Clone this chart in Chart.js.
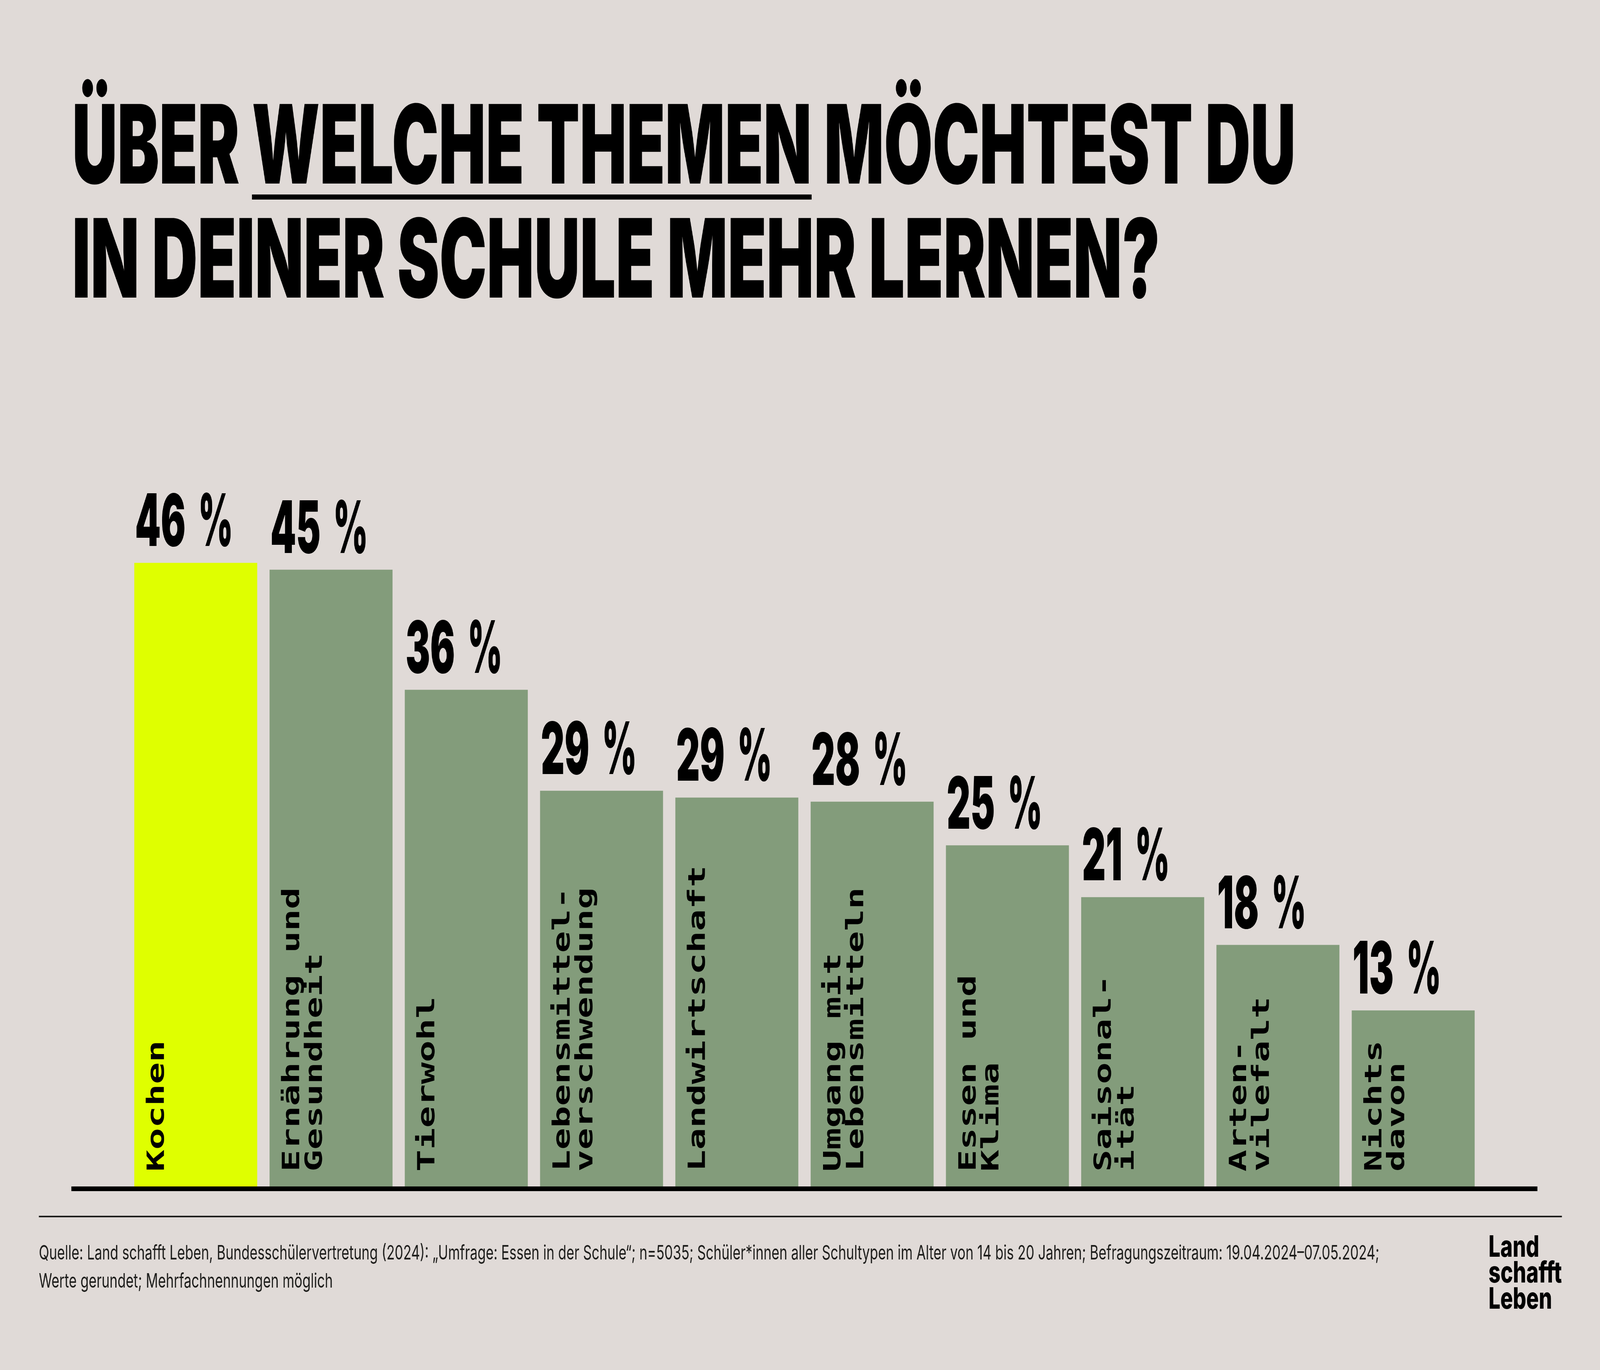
<!DOCTYPE html>
<html lang="de">
<head>
<meta charset="utf-8">
<title>Über welche Themen möchtest du in deiner Schule mehr lernen?</title>
<script src="https://cdn.jsdelivr.net/npm/chart.js@4.4.1/dist/chart.umd.min.js"></script>
<style>
  html, body { margin: 0; padding: 0; background: #e0dad7; overflow: hidden; }
  #buehne { position: absolute; left: 0; top: 0; width: 6258px; height: 3508px; transform-origin: 0 0; }
  canvas { display: block; }
</style>
</head>
<body>
<div id="buehne">
  <canvas id="themen_chart" width="6258" height="3508"></canvas>
</div>
<script>
// Daten
var themen = [
  ["Kochen"],
  ["Ernährung und", "Gesundheit"],
  ["Tierwohl"],
  ["Lebensmittel-", "verschwendung"],
  ["Landwirtschaft"],
  ["Umgang mit", "Lebensmitteln"],
  ["Essen und", "Klima"],
  ["Saisonal-", "ität"],
  ["Arten-", "vilefalt"],
  ["Nichts", "davon"]
];
var anteile = [45.7, 45.2, 36.4, 29.0, 28.5, 28.2, 25.0, 21.2, 17.7, 12.9];
var anteilLabels = ["46", "45", "36", "29", "29", "28", "25", "21", "18", "13"];
var einheit = "%";
var hervorgehoben = 0;

var titelZeile1 = ["ÜBER ", "WELCHE THEMEN", " MÖCHTEST DU"];
var titelZeile2 = "IN DEINER SCHULE MEHR LERNEN?";
var quelle = [
  "Quelle: Land schafft Leben, Bundesschülervertretung (2024): \u201EUmfrage: Essen in der Schule\u201C; n=5035; Schüler*innen aller Schultypen im Alter von 14 bis 20 Jahren; Befragungszeitraum: 19.04.2024\u201307.05.2024;",
  "Werte gerundet; Mehrfachnennungen möglich"
];
var logo = ["Land", "schafft", "Leben"];

var BG = "#e0dad7";
var GRUEN = "#839c7b";
var GELB = "#dfff00";
var SCHWARZ = "#000000";

var farben = anteile.map(function (v, i) { return i == hervorgehoben ? GELB : GRUEN; });

// the window may be smaller than the 6258x3508 design, so the stage is scaled to it
function buehneAnpassen() {
  var sx = window.innerWidth / 6258;
  var sy = window.innerHeight / 3508;
  document.getElementById("buehne").style.transform = "scale(" + sx + "," + sy + ")";
}
buehneAnpassen();
window.addEventListener("resize", buehneAnpassen);

// text squeezed / stretched to a given width
function fitText(ctx, text, x, y, breite) {
  var w = ctx.measureText(text).width;
  var s = breite / w;
  ctx.save();
  ctx.translate(x, y);
  ctx.scale(s, 1);
  ctx.fillText(text, 0, 0);
  ctx.restore();
  return s;
}

function scaledText(ctx, text, x, y, s) {
  ctx.save();
  ctx.translate(x, y);
  ctx.scale(s, 1);
  ctx.fillText(text, 0, 0);
  ctx.restore();
  return ctx.measureText(text).width * s;
}

var rahmenPlugin = {
  id: "rahmen",
  beforeDraw: function (chart) {
    var ctx = chart.ctx;
    ctx.save();
    ctx.fillStyle = BG;
    ctx.fillRect(0, 0, chart.width, chart.height);

    // Titel
    ctx.fillStyle = SCHWARZ;
    ctx.textAlign = "left";
    ctx.textBaseline = "alphabetic";
    ctx.font = "900 280px Inter";
    var zeile = titelZeile1.join("");
    var s = fitText(ctx, zeile, 282, 470, 4786);
    var u0 = 282 + s * ctx.measureText(titelZeile1[0]).width;
    var u1 = 282 + s * ctx.measureText(titelZeile1[0] + titelZeile1[1]).width;
    ctx.fillRect(u0, 498, u1 - u0, 13);
    fitText(ctx, titelZeile2, 282, 762, 4255);

    // Fusszeile
    ctx.fillStyle = "#1d1d1b";
    ctx.fillRect(152, 3113, 6109 - 152, 4);
    ctx.font = "400 51px Inter";
    var sq = fitText(ctx, quelle[0], 152, 3225, 5243);
    scaledText(ctx, quelle[1], 152, 3297, sq);

    // Logo
    ctx.fillStyle = SCHWARZ;
    ctx.font = "800 76px Inter";
    var sl = 287 / ctx.measureText(logo[1]).width;
    [3218, 3284, 3351].forEach(function (y, i) {
      scaledText(ctx, logo[i], 5822, y, sl);
    });
    ctx.restore();
  },
  afterDatasetsDraw: function (chart) {
    var ctx = chart.ctx;
    var meta = chart.getDatasetMeta(0);
    var yNull = chart.scales.y.getPixelForValue(0);
    ctx.save();

    // Grundlinie
    ctx.fillStyle = SCHWARZ;
    ctx.fillRect(279, yNull, 6013 - 279, 12);

    // Werte über den Balken
    ctx.font = "900 185px Inter";
    ctx.textAlign = "left";
    ctx.textBaseline = "alphabetic";
    var sZahl = 198 / ctx.measureText(anteilLabels[0]).width;
    var sProz = 135 / ctx.measureText(einheit).width;
    meta.data.forEach(function (bar, i) {
      var links = bar.x - bar.width / 2 + 3;
      var w = scaledText(ctx, anteilLabels[i], links, bar.y - 43, sZahl);
      scaledText(ctx, einheit, links + w + 50, bar.y - 43, sProz);
    });

    // Kategorien senkrecht in den Balken
    ctx.font = "bold 93px 'DejaVu Sans Mono'";
    meta.data.forEach(function (bar, i) {
      var links = bar.x - bar.width / 2;
      themen[i].forEach(function (t, j) {
        ctx.save();
        ctx.translate(links + 116 + j * 89, yNull - 38);
        ctx.rotate(-Math.PI / 2);
        ctx.fillText(t, 0, 0);
        ctx.restore();
      });
    });
    ctx.restore();
  }
};

var data = {
  labels: themen,
  datasets: [
    {
      label: "Anteil",
      data: anteile,
      backgroundColor: farben,
      borderWidth: 0,
      barPercentage: 0.909,
      categoryPercentage: 1.0
    }
  ]
};

var options = {
  responsive: false,
  devicePixelRatio: 1,
  animation: false,
  layout: { padding: { top: 1291, bottom: 470, left: 501, right: 466 } },
  scales: {
    x: { display: false },
    y: { display: false, min: 0, max: 50 }
  },
  plugins: {
    legend: { display: false },
    tooltip: { enabled: false }
  }
};

document.fonts.ready.then(function () {
  var ctx = document.getElementById("themen_chart").getContext("2d");
  new Chart(ctx, { type: "bar", data: data, options: options, plugins: [rahmenPlugin] });
});
</script>
</body>
</html>
